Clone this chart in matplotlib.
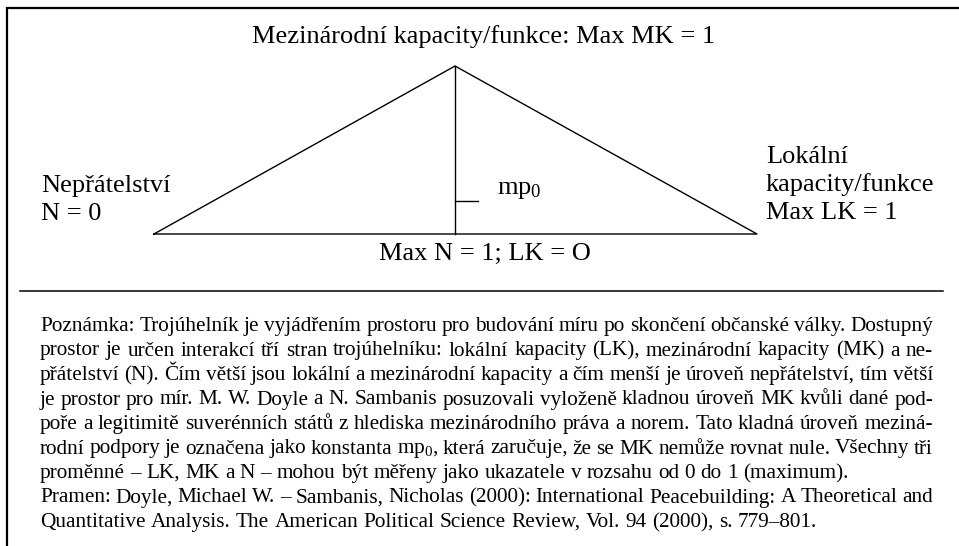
import matplotlib.pyplot as plt

plt.rcParams['font.family'] = ['Liberation Serif', 'DejaVu Serif']
plt.rcParams['mathtext.fontset'] = 'custom'
plt.rcParams['mathtext.rm'] = 'Liberation Serif'
plt.rcParams['mathtext.it'] = 'Liberation Serif:italic'

# Triangle corners: Nepřátelství, MK apex, Lokální kapacity
tri_x = [154, 455, 757]
tri_y = [234, 66, 234]
# mp0 marker on the vertical line
mp0_y = 201
mp0_len = 23

title_top = 'Mezinárodní kapacity/funkce: Max MK = 1'
label_left = ['Nepřátelství', 'N = 0']
label_right = ['Lokální', 'kapacity/funkce', 'Max LK = 1']
label_bottom = 'Max N = 1; LK = O'
label_mp0 = r'mp$_\mathrm{0}$'

note_lines = [
    'Poznámka: Trojúhelník je vyjádřením prostoru pro budování míru po skončení občanské války. Dostupný',
    'prostor je určen interakcí tří stran trojúhelníku: lokální kapacity (LK), mezinárodní kapacity (MK) a ne-',
    'přátelství (N). Čím větší jsou lokální a mezinárodní kapacity a čím menší je úroveň nepřátelství, tím větší',
    'je prostor pro mír. M. W. Doyle a N. Sambanis posuzovali vyloženě kladnou úroveň MK kvůli dané pod-',
    'poře a legitimitě suverénních států z hlediska mezinárodního práva a norem. Tato kladná úroveň meziná-',
    r'rodní podpory je označena jako konstanta mp$_\mathrm{0}$, která zaručuje, že se MK nemůže rovnat nule. Všechny tři',
    'proměnné – LK, MK a N – mohou být měřeny jako ukazatele v rozsahu od 0 do 1 (maximum).',
    'Pramen: Doyle, Michael W. – Sambanis, Nicholas (2000): International Peacebuilding: A Theoretical and',
    'Quantitative Analysis. The American Political Science Review, Vol. 94 (2000), s. 779–801.',
]
note_justify = [True, True, True, True, True, True, False, True, False]

fig = plt.figure(figsize=(9.59, 5.46), dpi=100)
ax = fig.add_axes([0, 0, 1, 1])
ax.set_xlim(0, 959)
ax.set_ylim(546, 0)
ax.axis('off')

# frame (only top and left edges are inside the picture)
ax.plot([7, 7, 959], [546, 8, 8], color='black', lw=1.6, solid_joinstyle='miter')
# separator above the note
ax.plot([20, 943], [291, 291], color='black', lw=1.1)

# triangle with the vertical line and the mp0 tick
ax.plot(tri_x + [tri_x[0]], tri_y + [tri_y[0]], color='black', lw=1.0)
ax.plot([tri_x[1], tri_x[1]], [tri_y[1], tri_y[0]], color='black', lw=1.0)
ax.plot([tri_x[1], tri_x[1] + mp0_len], [mp0_y, mp0_y], color='black', lw=1.0)

big = 19
ax.text(484, 43, title_top, fontsize=big, ha='center', va='baseline')
for i, s in enumerate(label_left):
    ax.text(41, 192 + i * 28, s, fontsize=big, va='baseline')
for i, s in enumerate(label_right):
    ax.text(766, 163 + i * 28, s, fontsize=big, va='baseline')
ax.text(485, 260, label_bottom, fontsize=big, ha='center', va='baseline')
ax.text(497, 194, label_mp0, fontsize=big, va='baseline')

# note, justified word by word
renderer = fig.canvas.get_renderer()
small = 15.3
x0, x1 = 40, 933
y0, dy = 331, 24.5


def width_of(s):
    t = ax.text(0, 0, s, fontsize=small)
    w = t.get_window_extent(renderer).width
    t.remove()
    return w


space = width_of('a a') - width_of('aa')
for k, line in enumerate(note_lines):
    y = y0 + k * dy
    words = line.split(' ')
    widths = [width_of(w) for w in words]
    if note_justify[k] and len(words) > 1:
        gap = (x1 - x0 - sum(widths)) / (len(words) - 1)
    else:
        gap = space
    x = x0
    for w, wd in zip(words, widths):
        ax.text(x, y, w, fontsize=small, va='baseline')
        x += wd + gap

fig.savefig('out.png', dpi=100)
